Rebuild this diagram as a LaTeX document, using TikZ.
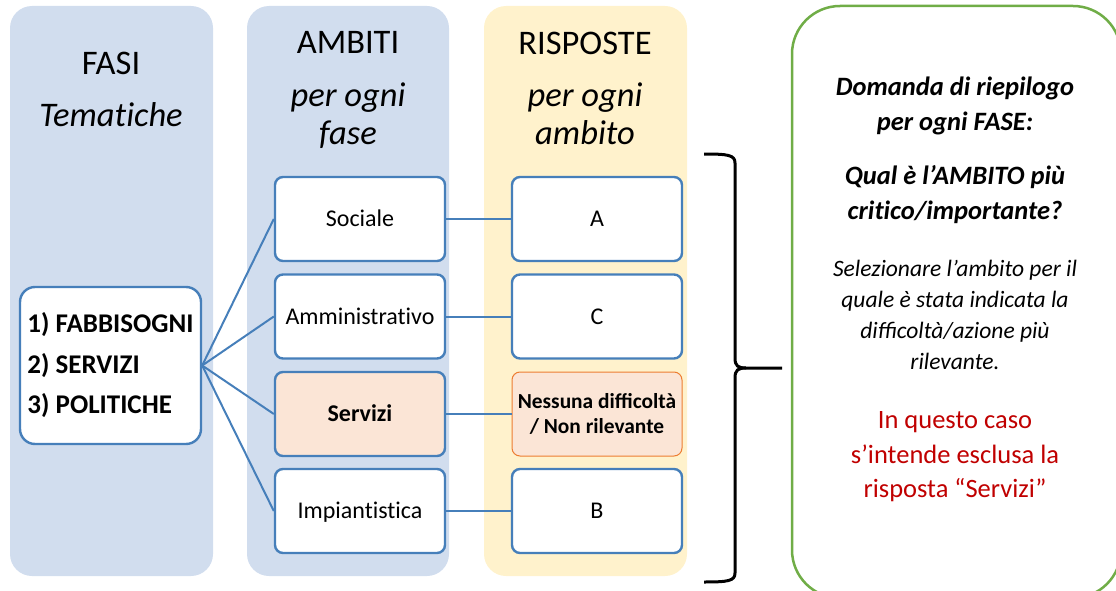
\documentclass[tikz,border=0pt]{standalone}
\usepackage{fontspec}
\setmainfont{Carlito}
\newcommand{\nolig}{\kern0pt }
\definecolor{panelblue}{RGB}{209,221,238}
\definecolor{panelyellow}{RGB}{255,242,204}
\definecolor{boxblue}{RGB}{70,127,186}
\definecolor{peach}{RGB}{251,229,214}
\definecolor{orangeline}{RGB}{237,125,49}
\definecolor{greenline}{RGB}{112,173,71}
\definecolor{redtext}{RGB}{192,0,0}
\begin{document}
\begin{tikzpicture}[x=1pt,y=-1pt,
  itembox/.style={draw=boxblue, line width=2.4pt, fill=white, rounded corners=8pt,
    minimum width=170pt, minimum height=84pt, inner sep=0pt,
    font=\fontsize{24}{28}\selectfont, text height=15.5pt, text depth=0pt},
  link/.style={draw=boxblue, line width=2pt},
  head/.style={anchor=base, inner sep=0pt, font=\fontsize{34.5}{40}\selectfont},
  headit/.style={anchor=base, inner sep=0pt, font=\fontsize{34.5}{40}\selectfont\itshape},
  gbold/.style={anchor=base, inner sep=0pt, font=\fontsize{26.5}{35}\selectfont\bfseries\itshape},
  gital/.style={anchor=base, inner sep=0pt, font=\fontsize{23.5}{31}\selectfont\itshape},
  gred/.style={anchor=base, inner sep=0pt, text=redtext, font=\fontsize{26.5}{35}\selectfont}
]
\useasboundingbox (0,0) rectangle (1116,591);
\clip (0,0) rectangle (1116,591);
% background panels
\fill[panelblue, rounded corners=22pt] (10,6) rectangle (213,576);
\fill[panelblue, rounded corners=22pt] (247,6) rectangle (449,576);
\fill[panelyellow, rounded corners=22pt] (484,6) rectangle (687,576);
% green box
\draw[greenline, line width=2.5pt, rounded corners=48pt] (792,6) rectangle (1121,598);

% headers
\node[head] (hfasi) at (111,75) {FASI};
\node[headit] (htem) at (111,127) {Temat\nolig iche};
\node[head] (hamb) at (348,54) {AMBITI};
\node[headit] (hamb2) at (348,107) {per ogni};
\node[headit] (hamb3) at (348,145) {fase};
\node[head] (hris) at (585,55) {RISPOSTE};
\node[headit] (hris2) at (585,107) {per ogni};
\node[headit] (hris3) at (585,145) {ambito};

% fasi box
\node[draw=boxblue, line width=2.4pt, fill=white, rounded corners=15pt,
  minimum width=181pt, minimum height=157pt, inner sep=0pt, align=left,
  font=\fontsize{27}{40.5}\selectfont\bfseries] (fasi) at (110.5,365.5)
  {1) FABBISOGNI\\2) SERVIZI\\3) POLITICHE};

% ambiti
\node[itembox] (soc) at (360,219) {Sociale};
\node[itembox] (amm) at (360,316.5) {Amministrat\nolig ivo};
\node[itembox, fill=peach, font=\fontsize{24}{28}\selectfont\bfseries] (ser) at (360,414) {Servizi};
\node[itembox] (imp) at (360,511) {Impiant\nolig ist\nolig ica};

% risposte
\node[itembox] (ra) at (597,219) {A};
\node[itembox] (rc) at (597,316.5) {C};
\node[draw=orangeline, line width=1pt, fill=peach, rounded corners=8pt,
  minimum width=170pt, minimum height=84pt, inner sep=0pt, align=center,
  font=\fontsize{21.4}{24.5}\selectfont\bfseries] (rn) at (597,414) {Nessuna difficoltà\\/ Non rilevante};
\node[itembox] (rb) at (597,511) {B};

% connectors
\draw[link] (fasi.east) -- (soc.west);
\draw[link] (fasi.east) -- (amm.west);
\draw[link] (fasi.east) -- (ser.west);
\draw[link] (fasi.east) -- (imp.west);
\draw[link] (soc.east) -- (ra.west);
\draw[link] (amm.east) -- (rc.west);
\draw[link] (ser.east) -- (rn.west);
\draw[link] (imp.east) -- (rb.west);

% brace
\draw[line width=3pt, line cap=butt]
  (704,154) .. controls (728,154) and (735,155) .. (735,163)
  -- (735,358) .. controls (735,366) and (738,368) .. (746,368) -- (782,368);
\draw[line width=3pt, line cap=butt]
  (704,582) .. controls (728,582) and (735,581) .. (735,573)
  -- (735,378) .. controls (735,370) and (738,368) .. (746,368);

% green box text
\node[gbold] (g1) at (955,96) {Domanda di riepilogo};
\node[gbold] (g2) at (955,131) {per ogni FASE:};
\node[gbold] (g3) at (955,184) {Qual è l’AMBITO più};
\node[gbold] (g4) at (955,219) {crit\nolig ico/importante?};
\node[gital] (g5) at (955,276) {Selezionare l’ambito per il};
\node[gital] (g6) at (955,307) {quale è stata indicata la};
\node[gital] (g7) at (955,338) {difficoltà/azione più};
\node[gital] (g8) at (955,369) {rilevante.};
\node[gred] (g9) at (955,428) {In questo caso};
\node[gred] (g10) at (955,463) {s’intende esclusa la};
\node[gred] (g11) at (955,497) {risposta “Servizi”};
\end{tikzpicture}
\end{document}
